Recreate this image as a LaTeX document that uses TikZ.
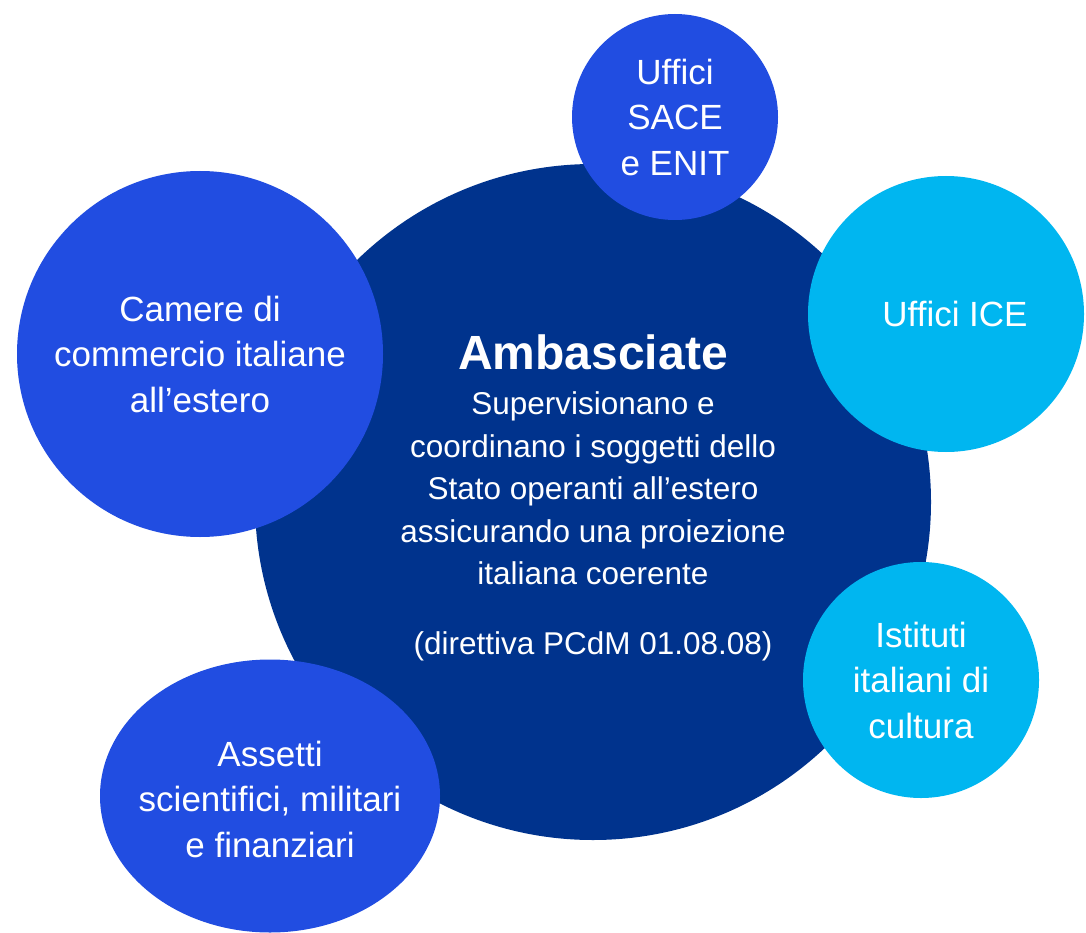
\documentclass[tikz,border=0pt]{standalone}
\usepackage{fontspec}
\setmainfont{Liberation Sans}
\usepackage{tikz}
\usetikzlibrary{shapes.geometric}

\definecolor{navyblue}{RGB}{0,51,141}
\definecolor{midblue}{RGB}{33,77,225}
\definecolor{skyblue}{RGB}{0,182,240}

\tikzset{
    bubble/.style={circle,inner sep=0pt,text=white,align=center,
        font=\fontsize{35}{45.5}\selectfont},
    bubbletext/.style={inner sep=0pt,text=white,align=center,
        font=\fontsize{31.5}{42.5}\selectfont}
}

\begin{document}
\begin{tikzpicture}[x=1pt,y=-1pt]
    \useasboundingbox (0,0) rectangle (1086,933);
    % Central circle
    \node[circle,fill=navyblue,minimum size=676pt,inner sep=0pt] (amb) at (593,502) {};
    \node[bubbletext] (ambtxt) at ([yshift=4pt]amb.center)
        {{\fontsize{48}{48}\selectfont\bfseries Ambasciate}\\[2.5pt]
         Supervisionano e\\ coordinano i soggetti dello\\ Stato operanti all’estero\\
         assicurando una proiezione\\ italiana coerente\\[27.5pt] (direttiva PCdM 01.08.08)};
    % Surrounding circles
    \node[bubble,fill=midblue,minimum size=206pt] (sace) at (675,117) {Uffici\\ SACE\\ e ENIT};
    \node[circle,fill=skyblue,minimum size=276pt,inner sep=0pt] (ice) at (946,314) {};
    \node[bubble] (icetxt) at ([xshift=9pt]ice.center) {Uffici ICE};
    \node[bubble,fill=skyblue,minimum size=236pt] (iic) at (921,680) {Istituti\\ italiani di\\ cultura};
    \node[bubble,fill=midblue,minimum size=366pt] (ccie) at (200,354) {Camere di\\ commercio italiane\\ all’estero};
    \node[ellipse,fill=midblue,minimum width=340pt,minimum height=273pt,inner sep=0pt] (asset) at (270,796) {};
    \node[bubble] (assettxt) at ([yshift=-3pt]asset.center) {Assetti\\ scientifici, militari\\ e finanziari};
\end{tikzpicture}
\end{document}
